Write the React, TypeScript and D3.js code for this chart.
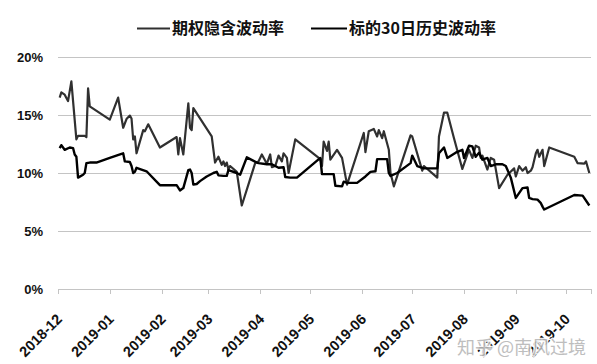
import React, { useEffect, useRef } from "react";
import * as d3 from "d3";

// implied vol (期权隐含波动率)
const ivDates = [
  "2018-12-02", "2018-12-03", "2018-12-05", "2018-12-07", "2018-12-09", "2018-12-12", "2018-12-13",
  "2018-12-17", "2018-12-18", "2018-12-19", "2018-12-20",
  "2019-01-01", "2019-01-06", "2019-01-09", "2019-01-11", "2019-01-13", "2019-01-14", "2019-01-15",
  "2019-01-16", "2019-01-17", "2019-01-21", "2019-01-22", "2019-01-24", "2019-01-31",
  "2019-02-10", "2019-02-11", "2019-02-12", "2019-02-14", "2019-02-17", "2019-02-18", "2019-02-19", "2019-02-20",
  "2019-03-03", "2019-03-05", "2019-03-07", "2019-03-09", "2019-03-10", "2019-03-11", "2019-03-12",
  "2019-03-13", "2019-03-14", "2019-03-18", "2019-03-21", "2019-03-29", "2019-03-31",
  "2019-04-02", "2019-04-05", "2019-04-07", "2019-04-08", "2019-04-10", "2019-04-12", "2019-04-14",
  "2019-04-15", "2019-04-17", "2019-04-18", "2019-04-22",
  "2019-05-07", "2019-05-08", "2019-05-09", "2019-05-11", "2019-05-12", "2019-05-13", "2019-05-17",
  "2019-05-20", "2019-05-23",
  "2019-06-02", "2019-06-03", "2019-06-05", "2019-06-08", "2019-06-10", "2019-06-11", "2019-06-13",
  "2019-06-14", "2019-06-17", "2019-06-18", "2019-06-20", "2019-06-30",
  "2019-07-01", "2019-07-07", "2019-07-08", "2019-07-16", "2019-07-17", "2019-07-20", "2019-07-22",
  "2019-07-26", "2019-07-31",
  "2019-08-03", "2019-08-04", "2019-08-06", "2019-08-08", "2019-08-10", "2019-08-11", "2019-08-12",
  "2019-08-15", "2019-08-17", "2019-08-19", "2019-08-22", "2019-08-27", "2019-08-31",
  "2019-09-01", "2019-09-03", "2019-09-05", "2019-09-07", "2019-09-08", "2019-09-10", "2019-09-11",
  "2019-09-13", "2019-09-14", "2019-09-15", "2019-09-17", "2019-09-18", "2019-09-21",
  "2019-10-06", "2019-10-08", "2019-10-12", "2019-10-13", "2019-10-15",
];
const ivVols = [
  16.5, 16.95, 16.75, 16.2, 17.9, 12.9, 13.2,
  13.2, 13.1, 17.3, 15.75,
  14.6, 16.5, 13.9, 14.65, 14.95, 14.7, 12.9,
  13.15, 11.7, 13.7, 13.6, 14.2, 12.2,
  13.1, 11.6, 13.0, 11.6, 16.0, 13.9, 13.7, 15.6,
  13.15, 10.9, 11.4, 10.7, 11.0, 10.6, 10.9,
  10.3, 10.6, 10.1, 7.2, 10.85, 11.0,
  11.6, 10.8, 11.6, 10.5, 10.6, 11.5, 11.0,
  11.7, 11.3, 10.0, 12.9,
  11.2, 10.6, 12.7, 11.9, 12.7, 11.15, 12.0,
  11.3, 9.0,
  13.45, 11.8, 13.6, 13.8, 13.15, 13.7, 13.0,
  13.6, 12.0, 10.0, 8.85, 13.25,
  13.15, 10.2, 10.6, 9.6, 13.15, 15.2, 15.2,
  13.0, 10.35,
  11.6, 12.0, 11.3, 12.35, 12.2, 11.3, 11.5,
  10.3, 11.3, 11.15, 8.7, 9.85, 10.4,
  9.7, 10.6, 10.2, 10.5, 10.0, 10.2, 10.5,
  11.7, 12.0, 11.4, 12.0, 10.6, 12.2,
  11.4, 10.85, 10.8, 11.0, 10.0,
];

// 30-day historical vol (标的30日历史波动率)
const hvDates = [
  "2018-12-02", "2018-12-03", "2018-12-05", "2018-12-08", "2018-12-10", "2018-12-11", "2018-12-12",
  "2018-12-13", "2018-12-16", "2018-12-17", "2018-12-18", "2018-12-20", "2018-12-24",
  "2019-01-01", "2019-01-08", "2019-01-09", "2019-01-10", "2019-01-13", "2019-01-14", "2019-01-15",
  "2019-01-16", "2019-01-17", "2019-01-23", "2019-01-25", "2019-01-31",
  "2019-02-10", "2019-02-12", "2019-02-14", "2019-02-17", "2019-02-18", "2019-02-19", "2019-02-20",
  "2019-02-22", "2019-02-24", "2019-02-28",
  "2019-03-02", "2019-03-04", "2019-03-06", "2019-03-07", "2019-03-10", "2019-03-12", "2019-03-13",
  "2019-03-18", "2019-03-20", "2019-03-24", "2019-03-30", "2019-03-31",
  "2019-04-05", "2019-04-08", "2019-04-12", "2019-04-15", "2019-04-16", "2019-04-19", "2019-04-23",
  "2019-05-07", "2019-05-08", "2019-05-11", "2019-05-15", "2019-05-16", "2019-05-20", "2019-05-21",
  "2019-05-23", "2019-05-29",
  "2019-06-03", "2019-06-06", "2019-06-09", "2019-06-10", "2019-06-16", "2019-06-17", "2019-06-18",
  "2019-06-22", "2019-06-30",
  "2019-07-01", "2019-07-04", "2019-07-08", "2019-07-16", "2019-07-17", "2019-07-20", "2019-07-22",
  "2019-07-27", "2019-07-31",
  "2019-08-01", "2019-08-04", "2019-08-06", "2019-08-08", "2019-08-10", "2019-08-12", "2019-08-15",
  "2019-08-17", "2019-08-20", "2019-08-24", "2019-08-26", "2019-08-29",
  "2019-09-01", "2019-09-05", "2019-09-08", "2019-09-09", "2019-09-11", "2019-09-14", "2019-09-16",
  "2019-09-17", "2019-09-18",
  "2019-10-06", "2019-10-11", "2019-10-15",
];
const hvVols = [
  12.15, 12.4, 12.0, 12.2, 12.15, 11.6, 11.4,
  9.6, 9.85, 10.0, 10.85, 10.9, 10.9,
  11.3, 11.65, 11.7, 11.0, 10.95, 10.6, 10.0,
  10.1, 10.45, 10.15, 9.85, 8.95,
  8.95, 8.5, 8.7, 10.25, 10.3, 10.0, 9.0,
  9.05, 9.3, 9.7,
  9.85, 10.0, 10.1, 9.8, 9.75, 9.75, 10.25,
  10.0, 9.85, 11.35, 10.9, 10.85,
  10.75, 10.75, 10.45, 10.5, 9.65, 9.6, 9.6,
  11.3, 9.9, 9.9, 9.9, 8.9, 8.85, 9.25,
  9.15, 9.15,
  9.7, 10.1, 10.15, 11.2, 11.2, 10.0, 9.75,
  10.0, 10.85,
  11.5, 10.6, 10.4, 10.4, 11.7, 12.2, 11.3,
  11.75, 12.0,
  11.3, 12.35, 12.3, 11.4, 11.75, 11.15, 11.3,
  10.6, 10.75, 10.75, 10.6, 9.6,
  7.85, 8.7, 8.75, 7.85, 7.75, 7.7, 7.4,
  7.1, 6.85,
  8.1, 8.05, 7.2,
];

const yTicks = [0, 5, 10, 15, 20];
const monthLabels = [
  "2018-12", "2019-01", "2019-02", "2019-03", "2019-04", "2019-05",
  "2019-06", "2019-07", "2019-08", "2019-09", "2019-10",
];
const legendLabels = ["期权隐含波动率", "标的30日历史波动率"];
const watermark = "知乎 @南风过境";

export default function App() {
  const ref = useRef<SVGSVGElement>(null);

  useEffect(() => {
    const svg = d3.select(ref.current);
    svg.selectAll("*").remove();

    const parseDay = d3.timeParse("%Y-%m-%d");
    const parseMonth = d3.timeParse("%Y-%m");

    const x = d3.scaleTime()
      .domain([parseDay("2018-12-01") as Date, parseDay("2019-10-16") as Date])
      .range([58, 591]);
    const y = d3.scaleLinear().domain([0, 20]).range([289, 57]);

    const gridColor = "#c4c4c4";
    const ivColor = "#303030";
    const hvColor = "#000";
    const cjk = "'Noto Sans CJK SC', sans-serif";
    const latin = "'Liberation Sans', Arial, sans-serif";

    // horizontal gridlines (the 0% one doubles as the x axis)
    svg.append("g")
      .selectAll("line")
      .data(yTicks)
      .join("line")
      .attr("x1", x.range()[0])
      .attr("x2", x.range()[1])
      .attr("y1", (d) => y(d) + 0.5)
      .attr("y2", (d) => y(d) + 0.5)
      .attr("stroke", gridColor)
      .attr("stroke-width", 1);

    // y labels
    svg.append("g")
      .selectAll("text")
      .data(yTicks)
      .join("text")
      .attr("x", 43)
      .attr("y", (d) => y(d))
      .attr("dy", "0.36em")
      .attr("text-anchor", "end")
      .attr("font-family", latin)
      .attr("font-weight", "bold")
      .attr("font-size", 13)
      .attr("fill", "#111")
      .text((d) => d + "%");

    // month ticks
    const monthDates = monthLabels.map((m) => parseMonth(m) as Date);
    const tickXs = monthDates.map((d) => x(d)).concat([x.range()[1]]);
    svg.append("g")
      .selectAll("line")
      .data(tickXs)
      .join("line")
      .attr("x1", (d) => Math.round(d) + 0.5)
      .attr("x2", (d) => Math.round(d) + 0.5)
      .attr("y1", y(0))
      .attr("y2", y(0) + 5)
      .attr("stroke", gridColor);

    // rotated month labels
    svg.append("g")
      .selectAll("text")
      .data(monthDates)
      .join("text")
      .attr("transform", (d) => `translate(${x(d) + 5},${y(0) + 31}) rotate(-45)`)
      .attr("text-anchor", "end")
      .attr("font-family", latin)
      .attr("font-weight", "bold")
      .attr("font-size", 14.5)
      .attr("fill", "#111")
      .text((d, i) => monthLabels[i]);

    // lines
    const line = d3.line<[Date, number]>()
      .x((d) => x(d[0]))
      .y((d) => y(d[1]));

    const ivData = ivDates.map((d, i) => [parseDay(d) as Date, ivVols[i]] as [Date, number]);
    const hvData = hvDates.map((d, i) => [parseDay(d) as Date, hvVols[i]] as [Date, number]);

    svg.append("path")
      .datum(ivData)
      .attr("d", line)
      .attr("fill", "none")
      .attr("stroke", ivColor)
      .attr("stroke-width", 2.2)
      .attr("stroke-linejoin", "round");

    svg.append("path")
      .datum(hvData)
      .attr("d", line)
      .attr("fill", "none")
      .attr("stroke", hvColor)
      .attr("stroke-width", 2.4)
      .attr("stroke-linejoin", "round");

    // legend
    const legend = [
      { x1: 137, x2: 170, tx: 172, color: ivColor },
      { x1: 311, x2: 347, tx: 349, color: hvColor },
    ];
    const lg = svg.append("g");
    legend.forEach((l, i) => {
      lg.append("line")
        .attr("x1", l.x1)
        .attr("x2", l.x2)
        .attr("y1", 28.5)
        .attr("y2", 28.5)
        .attr("stroke", l.color)
        .attr("stroke-width", 2);
      lg.append("text")
        .attr("x", l.tx)
        .attr("y", 28.5)
        .attr("dy", "0.36em")
        .attr("font-family", cjk)
        .attr("font-weight", "bold")
        .attr("font-size", 16)
        .attr("fill", "#111")
        .text(legendLabels[i]);
    });

    // watermark
    svg.append("text")
      .attr("x", 457)
      .attr("y", 348)
      .attr("dy", "0.36em")
      .attr("font-family", cjk)
      .attr("font-size", 18)
      .attr("fill", "#b8b8b8")
      .attr("stroke", "#fff")
      .attr("stroke-width", 2.5)
      .attr("paint-order", "stroke")
      .attr("opacity", 0.9)
      .text(watermark);
  }, []);

  return (
    <svg
      ref={ref}
      width={597}
      height={364}
      style={{ position: "absolute", left: 0, top: 0, background: "#fff" }}
    />
  );
}
